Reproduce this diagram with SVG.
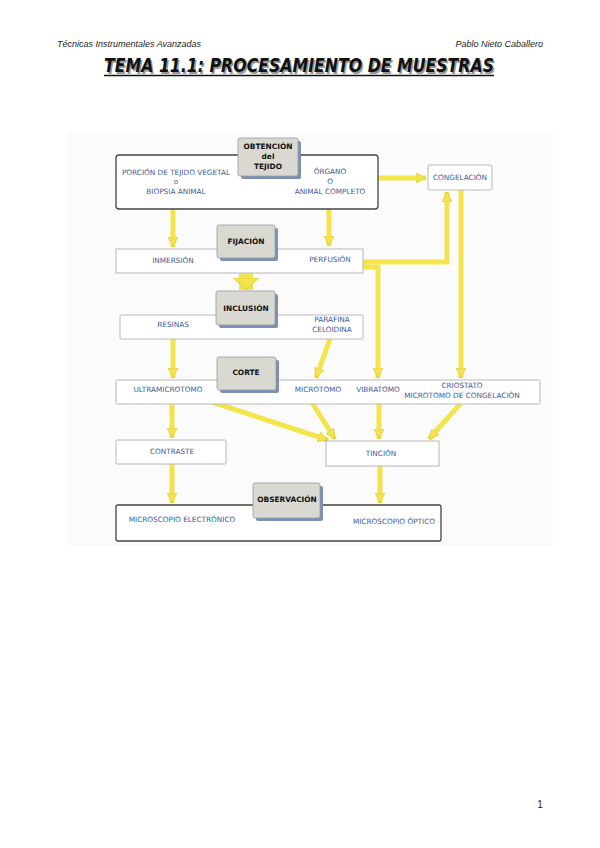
<svg xmlns="http://www.w3.org/2000/svg" width="600" height="848" viewBox="0 0 600 848">
<defs>
<marker id="ah" markerUnits="userSpaceOnUse" markerWidth="12" markerHeight="10" refX="10" refY="5" orient="auto">
<path d="M0,0 L10,5 L0,10 Z" fill="#f3e44c" stroke="#d4c23a" stroke-width="0.6"/>
</marker>
<marker id="ahb" markerUnits="userSpaceOnUse" markerWidth="14" markerHeight="26" refX="12" refY="13" orient="auto">
<path d="M0,0 L12,13 L0,26 Z" fill="#f3e44c" stroke="#d4c23a" stroke-width="0.6"/>
</marker>
</defs>
<style>
.hdr{font-family:"Liberation Sans",Arial,sans-serif;font-style:italic;font-size:9px;fill:#222}
.pg{font-family:"Liberation Sans",Arial,sans-serif;font-size:10px;fill:#222}
.ttl{font-family:"DejaVu Sans","Liberation Sans",sans-serif;font-style:italic;font-weight:bold;font-size:19px}
.box{fill:#fff;stroke:#b8b8b8;stroke-width:1}
.boxd{fill:#fff;stroke:#444;stroke-width:1.3}
.lab{fill:#d9d9d2;stroke:#9a9a9a;stroke-width:0.8}
.sh{fill:#7b90b6}
.lt{font-family:"DejaVu Sans","Liberation Sans",sans-serif;font-weight:bold;font-size:7.4px;fill:#111;text-anchor:middle}
.t{font-family:"DejaVu Sans","Liberation Sans",sans-serif;font-size:7.3px;fill:#3c5a96;text-anchor:middle}
.ar{fill:none;stroke:#f3e44c;stroke-width:5;stroke-linejoin:miter}
</style>
<rect x="0" y="0" width="600" height="848" fill="#fff"/>
<text class="hdr" x="57" y="47">Técnicas Instrumentales Avanzadas</text>
<text class="hdr" x="543" y="47" text-anchor="end">Pablo Nieto Caballero</text>
<text class="ttl" x="105.5" y="73.5" fill="#999" textLength="390" lengthAdjust="spacingAndGlyphs">TEMA 11.1: PROCESAMIENTO DE MUESTRAS</text>
<text class="ttl" x="104" y="72" fill="#111" textLength="390" lengthAdjust="spacingAndGlyphs">TEMA 11.1: PROCESAMIENTO DE MUESTRAS</text>
<line x1="104" y1="75.5" x2="494" y2="75.5" stroke="#111" stroke-width="1.5"/>
<rect x="67" y="132" width="486" height="414" fill="#fbfbfb"/>

<g id="connectors">
<polyline class="ar" points="173,209 173,247" marker-end="url(#ah)"/>
<polyline class="ar" points="329,209 329,246" marker-end="url(#ah)"/>
<polyline class="ar" points="378,178 426,178" marker-end="url(#ah)"/>
<polyline class="ar" points="363,262 447,262 447,192" marker-end="url(#ah)"/>
<polyline class="ar" points="461,190 461,378" marker-end="url(#ah)"/>
<polyline class="ar" points="363,267 378,267 378,378" marker-end="url(#ah)"/>
<line x1="246" y1="263" x2="246" y2="290" stroke="#f3e44c" stroke-width="14" marker-end="url(#ahb)"/>
<polyline class="ar" points="173,339 173,378" marker-end="url(#ah)"/>
<polyline class="ar" points="330,339 316,378" marker-end="url(#ah)"/>
<polyline class="ar" points="172,404 172,438" marker-end="url(#ah)"/>
<polyline class="ar" points="212,402 328,440" marker-end="url(#ah)"/>
<polyline class="ar" points="311,401 335,439" marker-end="url(#ah)"/>
<polyline class="ar" points="379,401 379,439" marker-end="url(#ah)"/>
<polyline class="ar" points="461,403 429,439" marker-end="url(#ah)"/>
<polyline class="ar" points="172,464 172,503" marker-end="url(#ah)"/>
<polyline class="ar" points="380,466 380,503" marker-end="url(#ah)"/>
</g>

<g id="obtencion">
<rect class="boxd" x="116" y="155" width="262" height="54" rx="3"/>
<text class="t" x="176" y="175">PORCIÓN DE TEJIDO VEGETAL</text>
<text class="t" x="176" y="184">o</text>
<text class="t" x="176" y="194">BIOPSIA ANIMAL</text>
<text class="t" x="330" y="174">ÓRGANO</text>
<text class="t" x="330" y="184">O</text>
<text class="t" x="330" y="194">ANIMAL COMPLETO</text>
<rect class="sh" x="241" y="141" width="60" height="38" rx="2"/>
<rect class="lab" x="238" y="138" width="60" height="38" rx="2"/>
<text class="lt" x="268" y="149">OBTENCIÓN</text>
<text class="lt" x="268" y="159">del</text>
<text class="lt" x="268" y="169">TEJIDO</text>
</g>

<g id="congelacion">
<rect class="box" x="428" y="165" width="64" height="25" rx="2"/>
<text class="t" x="460" y="180">CONGELACIÓN</text>
</g>

<g id="fijacion">
<rect class="box" x="116" y="249" width="247" height="24"/>
<text class="t" x="173" y="263">INMERSIÓN</text>
<text class="t" x="330" y="262">PERFUSIÓN</text>
<rect class="sh" x="220" y="228" width="58" height="33" rx="2"/>
<rect class="lab" x="217" y="225" width="58" height="33" rx="2"/>
<text class="lt" x="246" y="244">FIJACIÓN</text>
</g>

<g id="inclusion">
<rect class="box" x="120" y="315" width="243" height="24" rx="1"/>
<text class="t" x="173" y="327">RESINAS</text>
<text class="t" x="332" y="322">PARAFINA</text>
<text class="t" x="332" y="332">CELOIDINA</text>
<rect class="sh" x="219" y="294" width="59" height="34" rx="2"/>
<rect class="lab" x="216" y="291" width="59" height="34" rx="2"/>
<text class="lt" x="246" y="311">INCLUSIÓN</text>
</g>

<g id="corte">
<rect class="box" x="116" y="380" width="424" height="24" rx="1"/>
<text class="t" x="168" y="392">ULTRAMICROTOMO</text>
<text class="t" x="318" y="392">MICROTOMO</text>
<text class="t" x="378" y="392">VIBRATOMO</text>
<text class="t" x="462" y="388">CRIOSTATO</text>
<text class="t" x="462" y="398">MICROTOMO DE CONGELACIÓN</text>
<rect class="sh" x="220" y="360" width="59" height="33" rx="2"/>
<rect class="lab" x="217" y="357" width="59" height="33" rx="2"/>
<text class="lt" x="246" y="375">CORTE</text>
</g>

<g id="contraste">
<rect class="box" x="116" y="440" width="110" height="24" rx="1"/>
<text class="t" x="172" y="454">CONTRASTE</text>
</g>

<g id="tincion">
<rect class="box" x="326" y="441" width="113" height="25"/>
<text class="t" x="381" y="456">TINCIÓN</text>
</g>

<g id="observacion">
<rect class="boxd" x="116" y="505" width="325" height="36" rx="2"/>
<text class="t" x="182" y="522">MICROSCOPIO ELECTRÓNICO</text>
<text class="t" x="394" y="524">MICROSCOPIO ÓPTICO</text>
<rect class="sh" x="256" y="486" width="67" height="35" rx="2"/>
<rect class="lab" x="253" y="483" width="67" height="35" rx="2"/>
<text class="lt" x="287" y="502">OBSERVACIÓN</text>
</g>

<text class="pg" x="540" y="808" text-anchor="middle">1</text>
</svg>
